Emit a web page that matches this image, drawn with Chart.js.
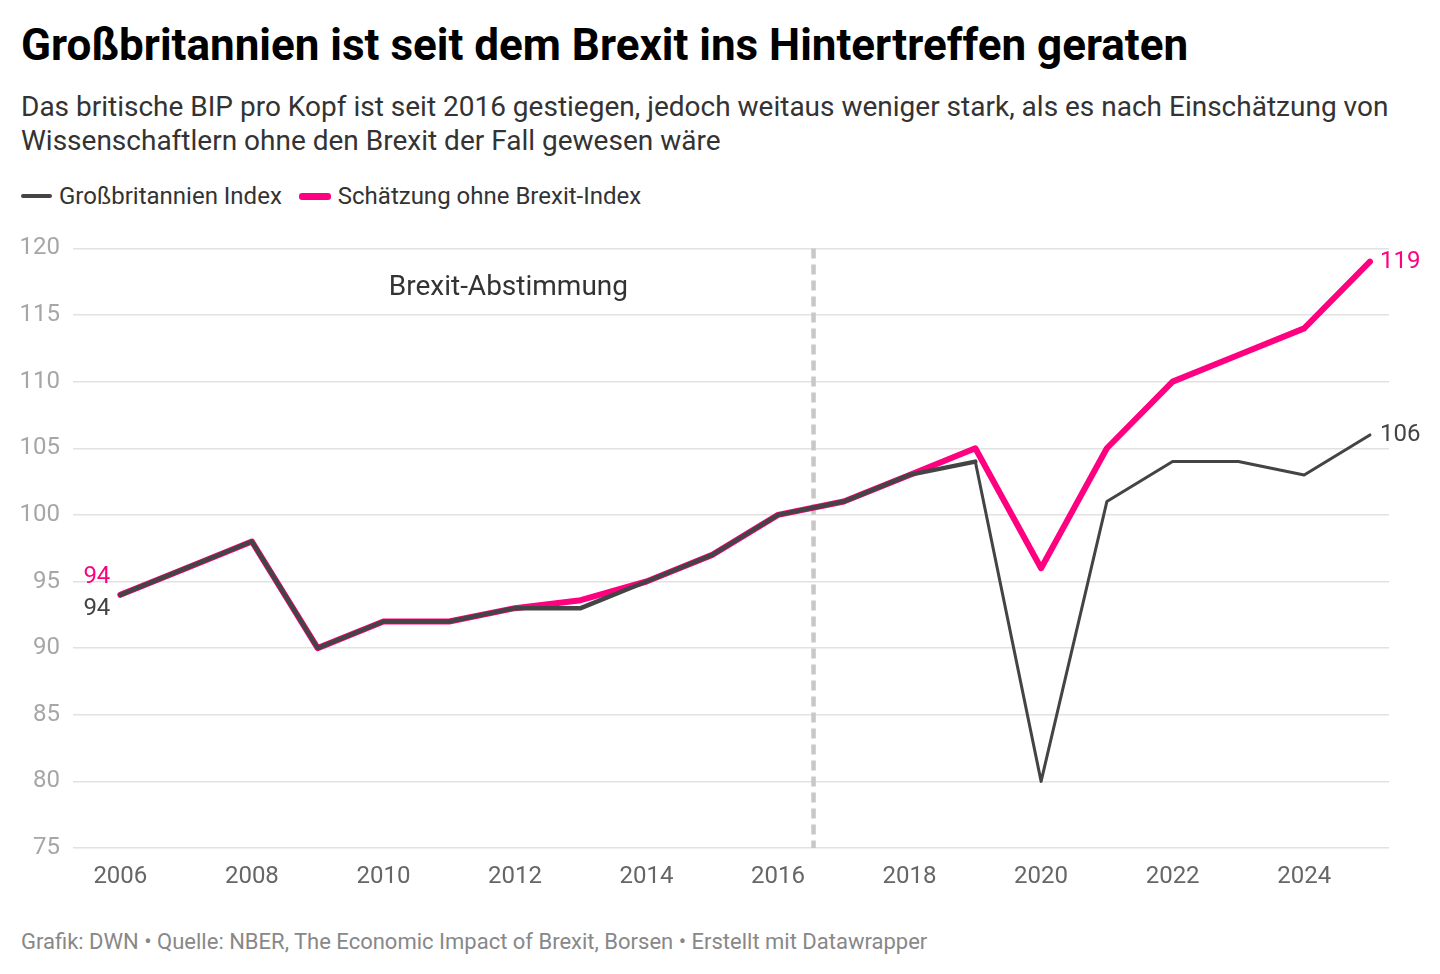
<!DOCTYPE html>
<html lang="de">
<head>
<meta charset="utf-8">
<script src="https://cdn.jsdelivr.net/npm/chart.js@4"></script>
<style>
  body { margin: 0; background: #fff; font-family: Roboto, "Noto Sans", sans-serif; }
  #wrap { position: relative; width: 1440px; height: 974px; overflow: hidden; }
  h1 { position: absolute; left: 21px; top: 19px; margin: 0; font-size: 44px; line-height: 52px; font-weight: 700; color: #000; }
  .sub { position: absolute; left: 21px; top: 90px; margin: 0; font-size: 28px; line-height: 34px; color: #333; width: 1410px; }
  .legend { position: absolute; left: 21px; top: 182px; font-size: 24px; color: #333; display: flex; align-items: center; }
  .legend span.sw { display: inline-block; width: 31px; border-radius: 3px; margin-right: 7px; }
  .legend .item { display: flex; align-items: center; margin-right: 17px; }
  #chartBox { position: absolute; left: 0; top: 221px; width: 1440px; height: 680px; }
  .foot { position: absolute; left: 21px; top: 929px; font-size: 22px; color: #888; }
</style>
</head>
<body>
<div id="wrap">
  <h1>Großbritannien ist seit dem Brexit ins Hintertreffen geraten</h1>
  <p class="sub">Das britische BIP pro Kopf ist seit 2016 gestiegen, jedoch weitaus weniger stark, als es nach Einschätzung von Wissenschaftlern ohne den Brexit der Fall gewesen wäre</p>
  <div class="legend">
    <div class="item"><span class="sw" style="height:4px;background:#444"></span>Großbritannien Index</div>
    <div class="item"><span class="sw" style="height:7px;background:#ff0080;width:32px"></span>Schätzung ohne Brexit-Index</div>
  </div>
  <div id="chartBox"><canvas id="brexitChart"></canvas></div>
  <div class="foot">Grafik: DWN • Quelle: NBER, The Economic Impact of Brexit, Borsen • Erstellt mit Datawrapper</div>
</div>
<script>
const jahre = [2006, 2007, 2008, 2009, 2010, 2011, 2012, 2013, 2014, 2015, 2016, 2017, 2018, 2019, 2020, 2021, 2022, 2023, 2024, 2025];
const grossbritannien = [94, 96, 98, 90, 92, 92, 93, 93, 95, 97, 100, 101, 103, 104, 80, 101, 104, 104, 103, 106];
const ohneBrexit = [94, 96, 98, 90, 92, 92, 93, 93.6, 95, 97, 100, 101, 103, 105, 96, 105, 110, 112, 114, 119];
const xTicks = [2006, 2008, 2010, 2012, 2014, 2016, 2018, 2020, 2022, 2024];
const yTicks = [75, 80, 85, 90, 95, 100, 105, 110, 115, 120];
const abstimmung = 2016.54;

const GRAU = "#444444";
const PINK = "#ff0080";

// senkrechte Linie, Beschriftungen
const extrasPlugin = {
  id: "extras",
  beforeDatasetsDraw(chart) {
    const { ctx, chartArea, scales } = chart;
    const x = scales.x.getPixelForValue(abstimmung);
    ctx.save();
    ctx.strokeStyle = "#c8c8c8";
    ctx.lineWidth = 4.5;
    ctx.setLineDash([10, 6]);
    ctx.beginPath();
    ctx.moveTo(x, chartArea.top);
    ctx.lineTo(x, chartArea.bottom);
    ctx.stroke();
    ctx.restore();
  },
  afterDatasetsDraw(chart) {
    const { ctx, scales } = chart;
    const sx = scales.x, sy = scales.y;
    ctx.save();
    ctx.font = "28px Roboto";
    ctx.fillStyle = "#333";
    ctx.textAlign = "center";
    ctx.textBaseline = "middle";
    ctx.fillText("Brexit-Abstimmung", sx.getPixelForValue(2011.9), sy.getPixelForValue(117.05));

    ctx.font = "24px Roboto";
    const last = jahre.length - 1;
    ctx.textAlign = "left";
    ctx.fillStyle = PINK;
    ctx.fillText(String(ohneBrexit[last]), sx.getPixelForValue(jahre[last]) + 10, sy.getPixelForValue(ohneBrexit[last]));
    ctx.fillStyle = GRAU;
    ctx.fillText(String(grossbritannien[last]), sx.getPixelForValue(jahre[last]) + 10, sy.getPixelForValue(grossbritannien[last]));

    ctx.textAlign = "right";
    const x0 = sx.getPixelForValue(jahre[0]) - 10;
    ctx.fillStyle = PINK;
    ctx.fillText(String(ohneBrexit[0]), x0, sy.getPixelForValue(ohneBrexit[0]) - 18);
    ctx.fillStyle = GRAU;
    ctx.fillText(String(grossbritannien[0]), x0, sy.getPixelForValue(grossbritannien[0]) + 14);
    ctx.restore();
  }
};

const ctx = document.getElementById("brexitChart").getContext("2d");
const myChart = new Chart(ctx, {
  type: "line",
  data: {
    datasets: [
      {
        label: "Schätzung ohne Brexit-Index",
        data: jahre.map((j, i) => ({ x: j, y: ohneBrexit[i] })),
        borderColor: PINK,
        borderWidth: 6,
        borderCapStyle: "round",
        borderJoinStyle: "round",
        pointRadius: 0,
        tension: 0,
        order: 2,
      },
      {
        label: "Großbritannien Index",
        data: jahre.map((j, i) => ({ x: j, y: grossbritannien[i] })),
        borderColor: GRAU,
        borderWidth: 3,
        borderCapStyle: "round",
        borderJoinStyle: "round",
        pointRadius: 0,
        tension: 0,
        order: 1,
        segment: {
          borderWidth: (c) => (c.p0DataIndex < 13 ? 4.5 : 3),
        },
      },
    ],
  },
  options: {
    responsive: true,
    maintainAspectRatio: false,
    animation: false,
    layout: { padding: { top: 27, right: 51, left: 0, bottom: 0 } },
    plugins: { legend: { display: false }, tooltip: { enabled: false } },
    scales: {
      x: {
        type: "linear",
        min: 2005.28,
        max: 2025.29,
        afterBuildTicks: (scale) => { scale.ticks = xTicks.map((v) => ({ value: v })); },
        afterFit: (scale) => { scale.height = 53; },
        grid: { display: false },
        border: { display: false },
        ticks: {
          color: "#666",
          font: { family: "Roboto", size: 24 },
          padding: 7,
          maxRotation: 0,
          callback: (v) => String(v),
        },
      },
      y: {
        min: 75,
        max: 120,
        afterBuildTicks: (scale) => { scale.ticks = yTicks.map((v) => ({ value: v })); },
        afterFit: (scale) => { scale.width = 73; },
        grid: { color: "#e2e2e2", lineWidth: 1.5, drawTicks: false },
        border: { display: false },
        ticks: {
          color: "#a6a6a6",
          font: { family: "Roboto", size: 24 },
          padding: 13,
        },
      },
    },
  },
  plugins: [extrasPlugin],
});
</script>
</body>
</html>
